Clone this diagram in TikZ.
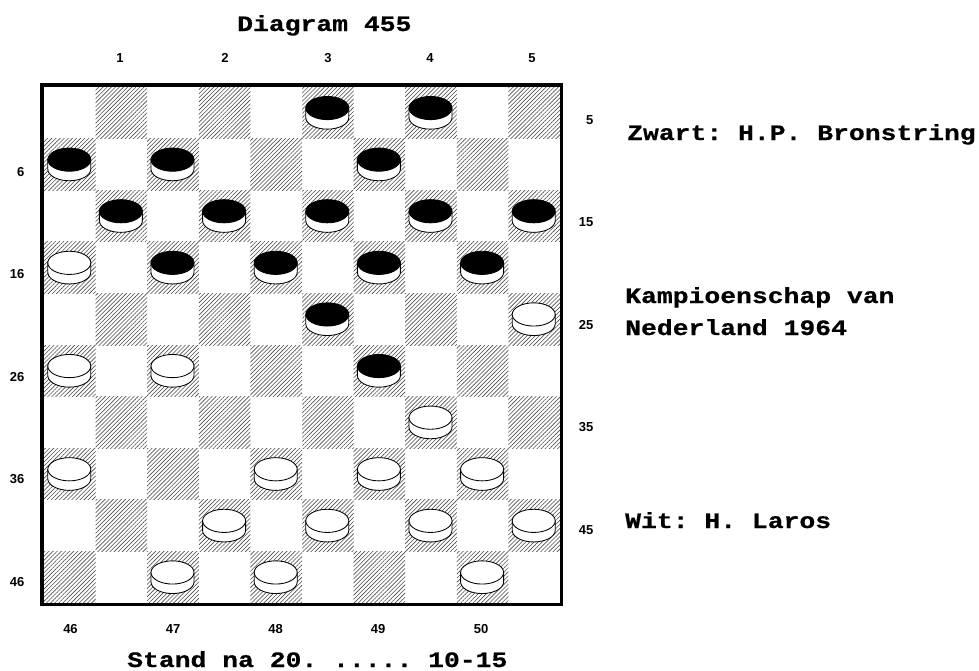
\documentclass[tikz,border=0pt]{standalone}
\usepackage{fontspec}
\usetikzlibrary{patterns.meta}
\newfontfamily\monob{Liberation Mono Bold}[FakeStretch=1.2,FakeBold=0.6]
\newfontfamily\digitf{Liberation Sans}[UprightFont={* Bold}]
\tikzset{
  titletext/.style={font=\monob\frenchspacing\fontsize{22}{26}\selectfont, inner sep=0pt, anchor=base west},
  numlbl/.style={font=\digitf\fontsize{13}{15}\selectfont, inner sep=0pt, anchor=base},
  darksq/.style={pattern={Lines[angle=45,distance=2.9pt,line width=0.6pt]}, pattern color=black!70},
  pcside/.style={fill=white,draw=black,line width=0.85pt},
  blackpc/.style={fill=black,draw=black,line width=0.85pt},
  whitepc/.style={fill=white,draw=black,line width=0.85pt},
  boardframe/.style={draw=black,line width=3.5pt}
}
\begin{document}
\begin{tikzpicture}[x=1pt,y=1pt,yscale=-1]
  \fill[white] (0,0) rectangle (979,670);
  \useasboundingbox (0,0) rectangle (979,670);
  % dark squares
  \foreach \r in {1,...,10}{
    \foreach \c in {1,...,10}{
      \pgfmathtruncatemacro\parity{mod(\r+\c,2)}
      \ifnum\parity=1
        \pgfmathsetmacro\xa{44+(\c-1)*51.6}
        \pgfmathsetmacro\ya{87+(\r-1)*51.6}
        \fill[darksq] (\xa,\ya) rectangle ++(51.6,51.6);
      \fi
    }
  }
  \draw[boardframe] (42,85) rectangle (561.5,604.5);
  % pieces
  \foreach \c/\r/\s in {6/1/blackpc,8/1/blackpc,1/2/blackpc,3/2/blackpc,7/2/blackpc,
      2/3/blackpc,4/3/blackpc,6/3/blackpc,8/3/blackpc,10/3/blackpc,
      1/4/whitepc,3/4/blackpc,5/4/blackpc,7/4/blackpc,9/4/blackpc,
      6/5/blackpc,10/5/whitepc,1/6/whitepc,3/6/whitepc,7/6/blackpc,
      8/7/whitepc,1/8/whitepc,5/8/whitepc,7/8/whitepc,9/8/whitepc,
      4/9/whitepc,6/9/whitepc,8/9/whitepc,10/9/whitepc,
      3/10/whitepc,5/10/whitepc,9/10/whitepc}{
    \pgfmathsetmacro\cx{44+(\c-0.5)*51.6-0.5}
    \pgfmathsetmacro\cy{87+(\r-0.5)*51.6}
    \filldraw[pcside] (\cx-21.5,\cy-4.75) -- (\cx-21.5,\cy+4.75)
        arc[start angle=180,end angle=0,x radius=21.5,y radius=11.6]
        -- (\cx+21.5,\cy-4.75) -- cycle;
    \filldraw[\s] (\cx,\cy-4.75) ellipse[x radius=21.5,y radius=11.6];
  }
  % top numbers
  \node[numlbl] (t1) at (120,62) {1};
  \node[numlbl] (t2) at (225,62) {2};
  \node[numlbl] (t3) at (328,62) {3};
  \node[numlbl] (t4) at (430,62) {4};
  \node[numlbl] (t5) at (532,62) {5};
  % left numbers
  \node[numlbl,anchor=base east] (l6) at (24.5,176) {6};
  \node[numlbl,anchor=base east] (l16) at (24.5,278.5) {16};
  \node[numlbl,anchor=base east] (l26) at (24.5,381) {26};
  \node[numlbl,anchor=base east] (l36) at (24.5,483.5) {36};
  \node[numlbl,anchor=base east] (l46) at (24.5,586) {46};
  % right numbers
  \node[numlbl,anchor=base east] (r5) at (593.5,124) {5};
  \node[numlbl,anchor=base east] (r15) at (593.5,226.5) {15};
  \node[numlbl,anchor=base east] (r25) at (593.5,329) {25};
  \node[numlbl,anchor=base east] (r35) at (593.5,431.5) {35};
  \node[numlbl,anchor=base east] (r45) at (593.5,534) {45};
  % bottom numbers
  \node[numlbl] (b46) at (70.5,633) {46};
  \node[numlbl] (b47) at (173,633) {47};
  \node[numlbl] (b48) at (275.5,633) {48};
  \node[numlbl] (b49) at (378,633) {49};
  \node[numlbl] (b50) at (481,633) {50};
  % texts
  \node[titletext] (title) at (237,31) {Diagram 455};
  \node[titletext] (zwart) at (627,140) {Zwart: H.P. Bronstring};
  \node[titletext] (kamp1) at (625,303) {Kampioenschap van};
  \node[titletext] (kamp2) at (625,335) {Nederland 1964};
  \node[titletext] (wit) at (625,528) {Wit: H. Laros};
  \node[titletext] (stand) at (127,667) {Stand na 20. ..... 10-15};
\end{tikzpicture}
\end{document}
